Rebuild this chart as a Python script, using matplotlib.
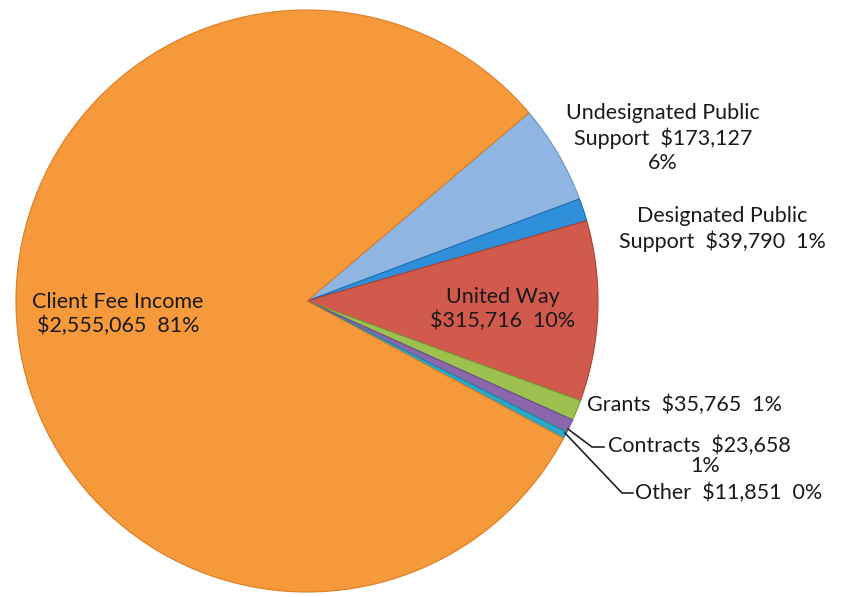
import matplotlib.pyplot as plt

plt.rcParams['font.family'] = ['Lato', 'DejaVu Sans']

# revenue sources, in pie order (clockwise from the upper right)
sources = ['Undesignated Public Support', 'Designated Public Support', 'United Way',
           'Grants', 'Contracts', 'Other', 'Client Fee Income']
amounts = [173127, 39790, 315716, 35765, 23658, 11851, 2555065]
pcts = ['6%', '1%', '10%', '1%', '1%', '0%', '81%']
colors = ['#8fb6e3', '#2f8fd8', '#d25a4c', '#9dc04f', '#8a67ad', '#2aa8c8', '#f6993b']
edges = ['#6f93c0', '#1f6fb0', '#a8433a', '#7a9a3a', '#6a4b8a', '#1c87a2', '#d97e27']

fig = plt.figure(figsize=(8.47, 5.97), dpi=100)
ax = fig.add_axes([0, 0, 1, 1])
ax.set_xlim(0, 847)
ax.set_ylim(0, 597)
ax.axis('off')

wedges, _ = ax.pie(amounts, colors=colors, startangle=40.3, counterclock=False,
                   center=(307, 296), radius=291, frame=True,
                   wedgeprops=dict(linewidth=0.8))
for w, e in zip(wedges, edges):
    w.set_edgecolor(e)
ax.set_xlim(0, 847)
ax.set_ylim(0, 597)
ax.set_aspect('equal')
ax.axis('off')


def money(v):
    return '${:,}'.format(v)


fs = 15.5
tc = '#1a1a1a'
ax.text(663, 597 - 138, 'Undesignated Public\nSupport  ' + money(amounts[0]) + '\n' + pcts[0],
        ha='center', va='center', fontsize=fs, color=tc, linespacing=1.25)
ax.text(722, 597 - 229, 'Designated Public\nSupport  ' + money(amounts[1]) + '  ' + pcts[1],
        ha='center', va='center', fontsize=fs, color=tc, linespacing=1.25)
ax.text(503, 597 - 309, 'United Way\n' + money(amounts[2]) + '  ' + pcts[2],
        ha='center', va='center', fontsize=fs, color=tc, linespacing=1.25)
ax.text(118, 597 - 314, 'Client Fee Income\n' + money(amounts[6]) + '  ' + pcts[6],
        ha='center', va='center', fontsize=fs, color=tc, linespacing=1.25)
ax.text(587, 597 - 405, 'Grants  ' + money(amounts[3]) + '  ' + pcts[3],
        ha='left', va='center', fontsize=fs, color=tc)
ax.text(608, 597 - 446, 'Contracts  ' + money(amounts[4]),
        ha='left', va='center', fontsize=fs, color=tc)
ax.text(705, 597 - 466, pcts[4], ha='center', va='center', fontsize=fs, color=tc)
ax.text(635, 597 - 493, 'Other  ' + money(amounts[5]) + '  ' + pcts[5],
        ha='left', va='center', fontsize=fs, color=tc)

# leader lines for the thin slices
ax.plot([568, 592, 604], [597 - 429, 597 - 447, 597 - 447], color='#222222', lw=1.2)
ax.plot([565, 622, 633], [597 - 433, 597 - 493, 597 - 493], color='#222222', lw=1.2)

fig.savefig('out.png', dpi=100)
